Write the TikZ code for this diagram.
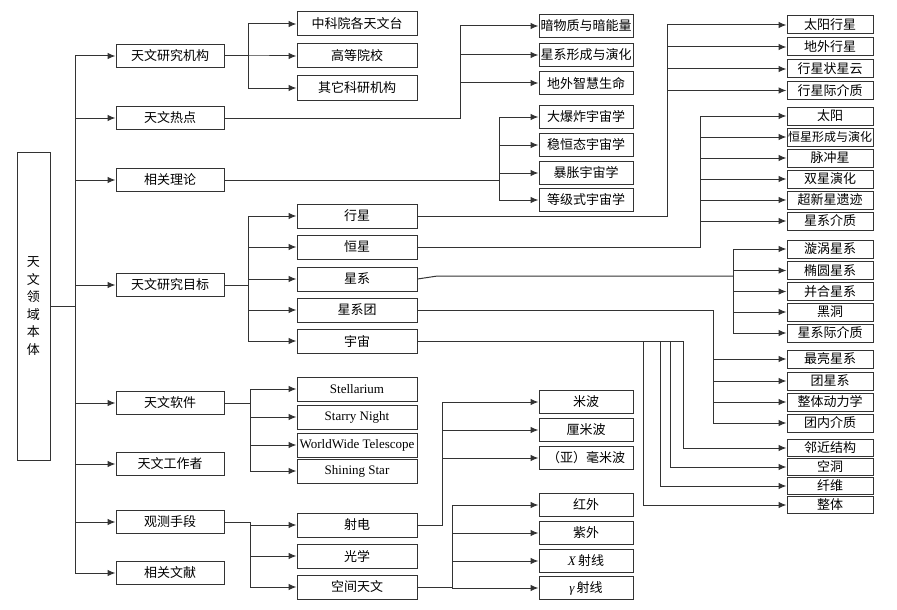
\documentclass[tikz,border=0pt]{standalone}
\usepackage{fontspec}
\setmainfont{Liberation Serif}
\newfontfamily\cjk{Noto Sans CJK SC}
\usepackage{tikz}
\usetikzlibrary{arrows.meta}

\tikzset{
    cell/.style={draw=black!80, line width=1pt, inner sep=0pt, align=center,
        font=\cjk\fontsize{13}{15}\selectfont},
    boxA/.style={cell, minimum width=108pt, minimum height=23pt},
    boxB/.style={cell, minimum width=120pt, minimum height=24pt},
    boxC/.style={cell, minimum width=94pt, minimum height=23pt},
    boxD/.style={cell, minimum width=86pt, minimum height=18pt},
    latin/.style={font=\rmfamily\fontsize{13}{15}\selectfont},
    link/.style={draw=black!80, line width=1pt},
    arr/.style={link, -{Latex[length=8pt,width=6.5pt]}},
}

\begin{document}
\begin{tikzpicture}[x=1pt, y=-1pt]
    \useasboundingbox (0,0) rectangle (897,610);

    % Root
    \node[cell, minimum width=33pt, minimum height=308pt,
        font=\cjk\fontsize{13}{17.5}\selectfont] (root) at (33.5,306) {天\\文\\领\\域\\本\\体};

    % First level
    \foreach \n/\y/\t in {jigou/56/天文研究机构, redian/118/天文热点, lilun/180/相关理论,
        mubiao/285/天文研究目标, ruanjian/403/天文软件, gongzuo/464/天文工作者,
        guance/522/观测手段, wenxian/573/相关文献}
    {
        \node[boxA] (\n) at (170,\y) {\t};
        \draw[arr] (root.east) -- ++(25,0) |- (\n.west);
    }

    % Institutions
    \foreach \n/\y/\t in {jg1/24/中科院各天文台, jg2/56/高等院校, jg3/88/其它科研机构}
    {
        \node[boxB] (\n) at (357,\y) {\t};
        \draw[arr] (jigou.east) -- ++(24,0) |- (\n.west);
    }

    % Hot topics
    \foreach \n/\y/\t in {rd1/26/暗物质与暗能量, rd2/55/星系形成与演化, rd3/83/地外智慧生命}
    {
        \node[boxC] (\n) at (586,\y) {\t};
        \draw[arr] (redian.east) -- ++(236,0) |- (\n.west);
    }

    % Theories
    \foreach \n/\y/\t in {ll1/117/大爆炸宇宙学, ll2/145/稳恒态宇宙学, ll3/173/暴胀宇宙学, ll4/200/等级式宇宙学}
    {
        \node[boxC] (\n) at (586,\y) {\t};
        \draw[arr] (lilun.east) -- ++(275,0) |- (\n.west);
    }

    % Research targets
    \foreach \n/\y/\t in {xingxing/216/行星, hengxing/247/恒星, xingxi/279/星系, xituan/310/星系团, yuzhou/341/宇宙}
    {
        \node[boxB] (\n) at (357,\y) {\t};
        \draw[arr] (mubiao.east) -- ++(24,0) |- (\n.west);
    }

    % Planets
    \foreach \n/\y/\t in {xx1/25/太阳行星, xx2/47/地外行星, xx3/69/行星状星云, xx4/90.5/行星际介质}
    {
        \node[boxD] (\n) at (830,\y) {\t};
        \draw[arr] (xingxing.east) -- ++(250,0) |- (\n.west);
    }

    % Stars
    \foreach \n/\y/\t in {hx1/116/太阳, hx2/137/{\fontsize{12}{14}\selectfont 恒星形成与演化}, hx3/158/脉冲星,
        hx4/179/双星演化, hx5/200/超新星遗迹, hx6/221/星系介质}
    {
        \node[boxD] (\n) at (830,\y) {\t};
        \draw[arr] (hengxing.east) -- ++(283,0) |- (\n.west);
    }

    % Galaxies
    \coordinate (xiJ) at (733,276);
    \draw[link] (xingxi.east) -- ++(20,-3) -- (xiJ);
    \foreach \n/\y/\t in {xi1/249/漩涡星系, xi2/270.5/椭圆星系, xi3/291.5/并合星系, xi4/312/黑洞, xi5/333/星系际介质}
    {
        \node[boxD] (\n) at (830,\y) {\t};
        \draw[arr] (xiJ) |- (\n.west);
    }

    % Clusters
    \foreach \n/\y/\t in {tu1/359/最亮星系, tu2/381/团星系, tu3/402/整体动力学, tu4/423/团内介质}
    {
        \node[boxD] (\n) at (830,\y) {\t};
        \draw[arr] (xituan.east) -- ++(296,0) |- (\n.west);
    }

    % Universe
    \foreach \n/\y/\t/\d in {yz1/448/邻近结构/266, yz2/467/空洞/253, yz3/486/纤维/243, yz4/505/整体/226}
    {
        \node[boxD, minimum height=17pt] (\n) at (830,\y) {\t};
        \draw[arr] (yuzhou.east) -- ++(\d,0) |- (\n.west);
    }

    % Software
    \foreach \n/\y/\t in {rj1/389/Stellarium, rj2/417/Starry Night, rj3/445/WorldWide Telescope, rj4/471/Shining Star}
    {
        \node[boxB, latin] (\n) at (357,\y) {\t};
        \draw[arr] (ruanjian.east) -- ++(26,0) |- (\n.west);
    }

    % Observation
    \foreach \n/\y/\t in {shedian/525/射电, guangxue/556/光学, kongjian/587/空间天文}
    {
        \node[boxB] (\n) at (357,\y) {\t};
        \draw[arr] (guance.east) -- ++(26,0) |- (\n.west);
    }

    % Radio bands
    \foreach \n/\y/\t in {sd1/402/米波, sd2/430/厘米波, sd3/458/（亚）毫米波}
    {
        \node[boxC] (\n) at (586,\y) {\t};
        \draw[arr] (shedian.east) -- ++(25,0) |- (\n.west);
    }

    % Space bands
    \foreach \n/\y/\t in {kj1/505/红外, kj2/533/紫外, kj3/561/{\rmfamily\itshape X}\,射线, kj4/588/{\rmfamily\itshape γ}\,射线}
    {
        \node[boxC] (\n) at (586,\y) {\t};
        \draw[arr] (kongjian.east) -- ++(35,0) |- (\n.west);
    }
\end{tikzpicture}
\end{document}
